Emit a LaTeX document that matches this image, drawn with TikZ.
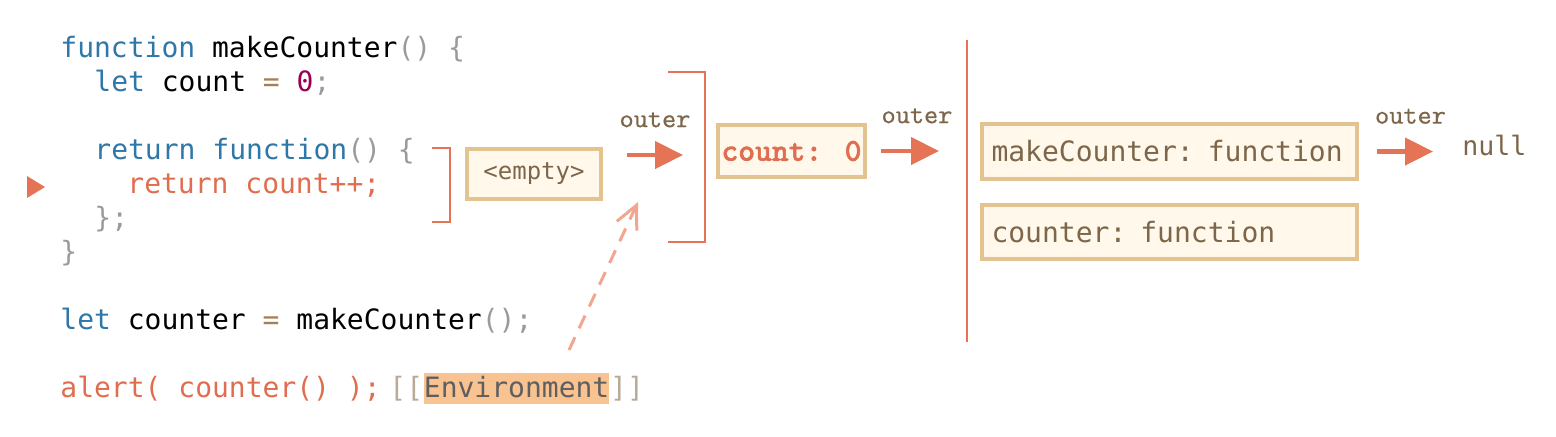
\documentclass[tikz,border=0pt]{standalone}
\usepackage{fontspec}
\setmonofont{DejaVu Sans Mono}
\newfontfamily\lmmono{lmmono10-regular.otf}[FakeBold=0.4]
\newfontfamily\lmmonob{lmmonolt10-bold.otf}[FakeBold=1.6]
\usepackage{tikz}
\usetikzlibrary{arrows.meta,positioning}

\definecolor{kwblue}{HTML}{2E77A8}
\definecolor{pncgray}{HTML}{9A9A9A}
\definecolor{oprtan}{HTML}{A67F59}
\definecolor{nmbpurple}{HTML}{990055}
\definecolor{codered}{HTML}{E06D50}
\definecolor{brkred}{HTML}{E57355}
\definecolor{boxfill}{HTML}{FFF8EB}
\definecolor{boxline}{HTML}{E3C490}
\definecolor{boxtext}{HTML}{7D6649}
\definecolor{dashpink}{HTML}{F2A690}
\definecolor{envfill}{HTML}{F8C291}
\definecolor{envtext}{HTML}{5F5F5F}
\definecolor{envbrk}{HTML}{B8AA98}

\newcommand{\kwd}[1]{\textcolor{kwblue}{#1}}
\newcommand{\pnc}[1]{\textcolor{pncgray}{#1}}
\newcommand{\opr}[1]{\textcolor{oprtan}{#1}}
\newcommand{\nmb}[1]{\textcolor{nmbpurple}{#1}}

\begin{document}
\begin{tikzpicture}[
			x=0.5pt, y=-0.5pt,
			code/.style={font=\ttfamily\fontsize{14}{16}\selectfont, inner sep=0pt, anchor=base west},
			envbox/.style={draw=boxline, fill=boxfill, line width=2pt, inner sep=0pt, text=boxtext},
			outerlbl/.style={font=\lmmono\fontsize{13.5}{15}\selectfont, text=boxtext, inner sep=0pt, above=12.75pt},
			outerarrow/.style={draw=brkred, line width=2.2pt, -{Triangle[length=14pt,width=13.5pt]}},
			envarrow/.style={draw=dashpink, line width=1.5pt, dash pattern=on 7pt off 5pt, -{Straight Barb[length=11.5pt,width=11pt]}},
			brk/.style={draw=brkred, line width=1.2pt},
			envword/.style={code, text height=12pt, text depth=3.5pt}
		]
		\useasboundingbox (0,0) rectangle (1556,436);

		% Code lines
		\node (fnline) [code] at (60,57) {\kwd{function} makeCounter\pnc{() \{}};
		\node (letline) [code] at (94,91) {\kwd{let} count \opr{=} \nmb{0}\pnc{;}};
		\node (retfn) [code] at (94,159) {\kwd{return} \kwd{function}\pnc{() \{}};
		\node (retcnt) [code, text=codered] at (127,193) {return count++;};
		\node (closeinner) [code, text=pncgray] at (94,227) {\};};
		\node (closeouter) [code, text=pncgray] at (60,261) {\}};
		\node (letcounter) [code] at (60,329) {\kwd{let} counter \opr{=} makeCounter\pnc{();}};
		\node (alertline) [code, text=codered] at (60,397) {alert( counter() );};

		% [[Environment]]
		\node (lbr) [envword, text=envbrk] at (389,397) {[[};
		\node (envw) [envword, fill=envfill, text=envtext, right=0pt of lbr] {Environment};
		\node (rbr) [envword, text=envbrk, right=0pt of envw] {]]};

		% Current line marker
		\fill[brkred] (27,176) -- (45,187) -- (27,198) -- cycle;

		% Lexical environments
		\draw[brk] (432,148) -| (450,222) -- (432,222);
		\node (emp) [envbox, minimum width=67pt, minimum height=25pt, font=\ttfamily\fontsize{12}{14}\selectfont] at (534,174) {<empty>};

		\draw[brk] (668,72) -| (705,242) -- (668,242);
		\node (cnt) [envbox, minimum width=73.5pt, minimum height=26pt, text=codered, font=\lmmonob\fontsize{16}{18}\selectfont] at (791.5,151) {count: 0};

		\coordinate (gtop) at (967,40);
		\coordinate (gbot) at (967,342);
		\draw[brk] (gtop) -- (gbot);
		\node (mkc) [envbox, text width=178pt, align=left, inner xsep=4.75pt, minimum height=27.5pt, font=\ttfamily\fontsize{14}{16}\selectfont] at (1169.5,151.5) {makeCounter: function};
		\node (ctr) [envbox, text width=178pt, align=left, inner xsep=4.75pt, minimum height=27pt, font=\ttfamily\fontsize{14}{16}\selectfont, below=11pt of mkc] {counter: function};

		\node (nul) [code, text=boxtext, font=\ttfamily\fontsize{13.3}{15}\selectfont] at (1462,155) {null};

		% Outer references
		\coordinate (o1a) at (627,155);
		\coordinate (o1b) at (683,155);
		\draw[outerarrow] (o1a) -- node[outerlbl] {outer} (o1b);
		\draw[outerarrow, shorten <=7pt, shorten >=14pt] (cnt.east) -- node[outerlbl] {outer} (cnt.east -| gtop);
		\draw[outerarrow, shorten <=9pt, shorten >=14.5pt] (mkc.east) -- node[outerlbl] {outer} (mkc.east -| nul.west);

		% Environment pointer
		\coordinate (dtail) at (569,350);
		\coordinate (dtip) at (638,202);
		\draw[envarrow] (dtail) -- (dtip);
	\end{tikzpicture}
\end{document}
